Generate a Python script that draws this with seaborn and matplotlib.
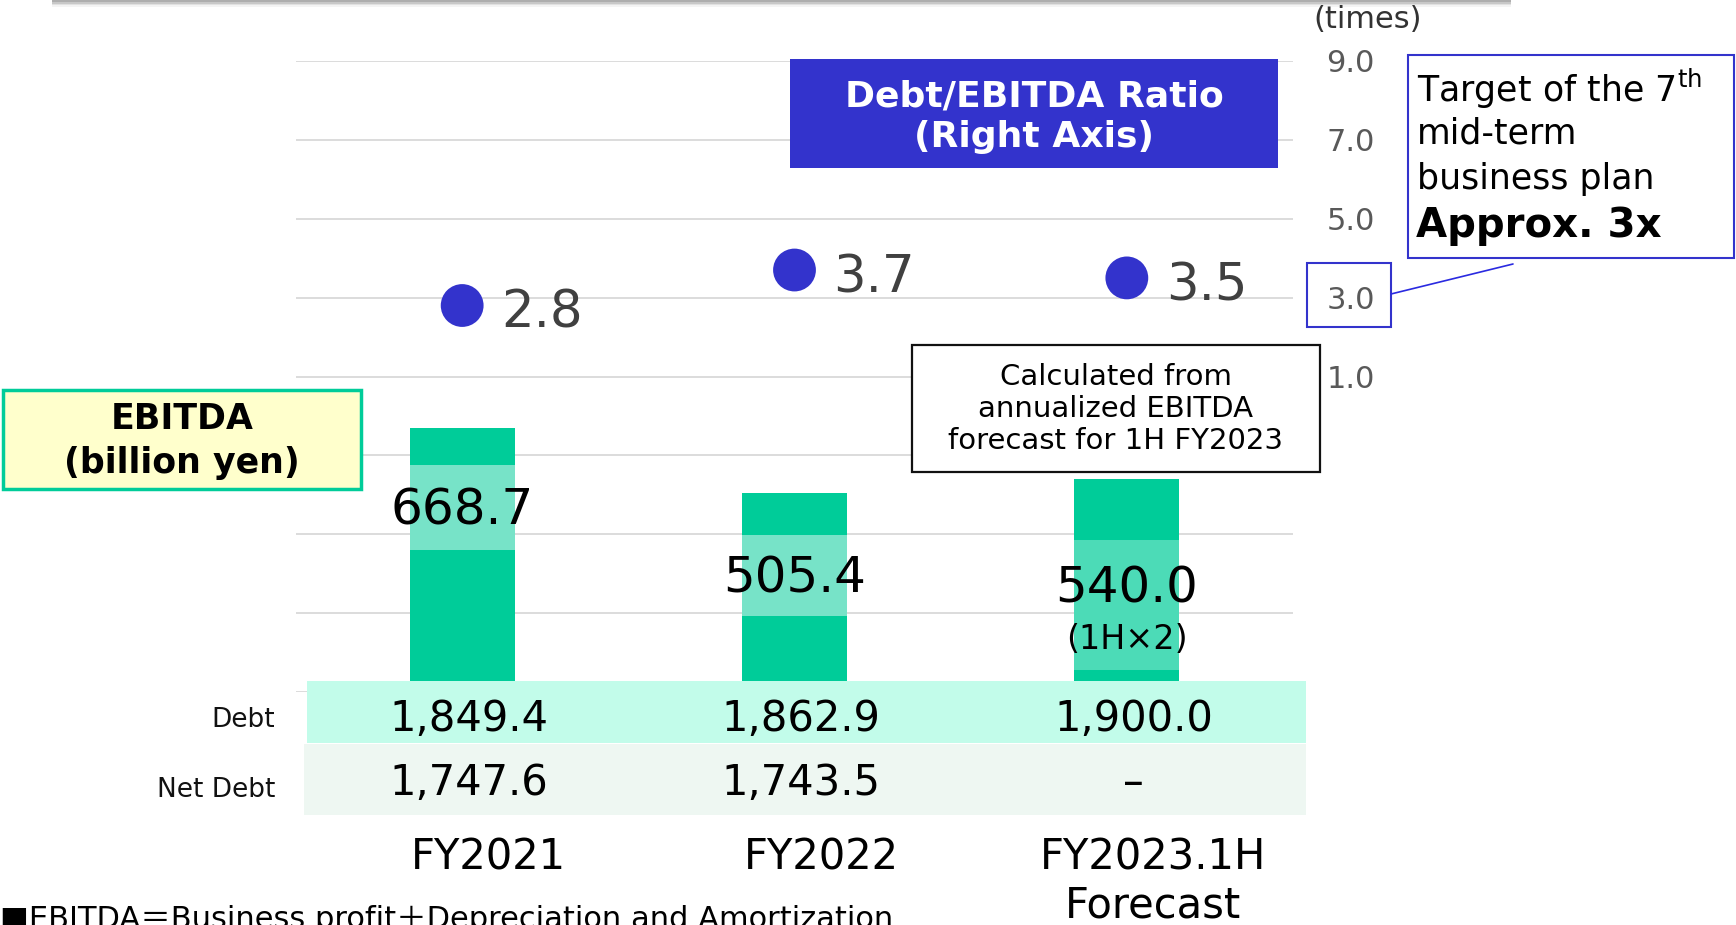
import numpy as np
import pandas as pd
import matplotlib
matplotlib.use("Agg")
import matplotlib.pyplot as plt
from matplotlib.patches import Rectangle
from matplotlib.transforms import blended_transform_factory
import seaborn as sns

# ---- data ----
periods = ["FY2021", "FY2022", "FY2023.1H\nForecast"]
ebitda = [668.7, 505.4, 540.0]
ratio = [2.8, 3.7, 3.5]
debt = ["1,849.4", "1,862.9", "1,900.0"]
net_debt = ["1,747.6", "1,743.5", "\u2013"]
ratio_ticks = [1.0, 3.0, 5.0, 7.0, 9.0]

# label placement (left-axis units), kept apart from the data
label_y = [460, 288, 263]
band_lo = [360, 192, 56]
band_hi = [575, 397, 385]
band_alpha = [0.47, 0.47, 0.30]

W, H = 1736, 925
GREEN = "#00CC99"
BLUE = "#3333CC"
INK = "#000000"

sns.set_style("white")
plt.rcParams["font.family"] = ["DejaVu Sans", "Noto Sans CJK JP"]
plt.rcParams["text.color"] = INK

fig = plt.figure(figsize=(W / 100, H / 100), dpi=100)
ax = fig.add_axes([296 / W, 1 - 692 / H, (1293 - 296) / W, (692 - 61) / H])

df = pd.DataFrame({"period": periods, "ebitda": ebitda})
sns.barplot(data=df, x="period", y="ebitda", color=GREEN, saturation=1,
            width=0.315, linewidth=0, ax=ax, zorder=2)
ax.set_ylim(0, 1600)
ax.set_xlim(-0.5, 2.5)
ax.set_yticks(np.arange(0, 1601, 200))
ax.grid(axis="y", color="#D9D9D9", lw=1.3, zorder=0)
ax.set_axisbelow(True)
ax.set_xlabel("")
ax.set_ylabel("")
sns.despine(ax=ax, left=True, bottom=True)

# lighter band behind the bar labels
xs = np.arange(len(periods))
for i in xs:
    ax.bar(i, band_hi[i] - band_lo[i], bottom=band_lo[i], width=0.315,
           color=(1, 1, 1, band_alpha[i]), linewidth=0, zorder=3)

for i in xs:
    ax.text(i, label_y[i], f"{ebitda[i]:.1f}", ha="center", va="center",
            fontsize=36, color=INK, zorder=4)
ax.text(2, 132, "(1H\u00d72)", ha="center", va="center", fontsize=24, color=INK, zorder=4)

# right axis: Debt/EBITDA ratio
ax2 = ax.twinx()
ax2.set_ylim(-7, 9)
ax2.set_yticks(ratio_ticks)
ax2.set_yticklabels([f"{t:.1f}" for t in ratio_ticks], color="#595959", fontsize=22)
ax2.tick_params(axis="y", length=0, pad=24)
for s in ax2.spines.values():
    s.set_visible(False)
# twinx turns the left ticks back on, so switch them off here
ax.tick_params(left=False, labelleft=False, bottom=False, labelbottom=False, length=0)
sns.scatterplot(x=xs, y=ratio, s=950, color=BLUE, edgecolor="none", ax=ax2, zorder=5)
for i, r in enumerate(ratio):
    ax2.annotate(f"{r:.1f}", (i, r), xytext=(28, -6), textcoords="offset points",
                 ha="left", va="center", fontsize=37, color="#404040")

# ---- figure-level decorations ----
def box(x0, y0, x1, y1, **kw):
    fig.add_artist(Rectangle((x0 / W, 1 - y1 / H), (x1 - x0) / W, (y1 - y0) / H,
                             transform=fig.transFigure, **kw))

def ftext(x, y, s, **kw):
    kw.setdefault("color", INK)
    fig.text(x / W, 1 - y / H, s, **kw)

# shadowed header strip at the very top
for k, a in enumerate([0.55, 0.35, 0.2, 0.1]):
    box(52, 0, 1511, 2 + k * 1.5, facecolor="#9a9a9a", edgecolor="none", alpha=a, zorder=1)

# table rows below the bars
box(307, 681, 1306, 743, facecolor="#C2FCEA", edgecolor="none", zorder=1)
box(304, 744, 1306, 815, facecolor="#EEF7F2", edgecolor="none", zorder=1)
tr = blended_transform_factory(ax.transData, fig.transFigure)
for i in xs:
    fig.text(i + 0.02, 1 - 719 / H, debt[i], transform=tr, ha="center", va="center",
             fontsize=30, color=INK)
    fig.text(i + 0.02, 1 - 783 / H, net_debt[i], transform=tr, ha="center", va="center",
             fontsize=30, color=INK)
    fig.text(i + 0.08, 1 - 836 / H, periods[i], transform=tr, ha="center", va="top",
             fontsize=30, color=INK, linespacing=1.2)
ftext(275, 720, "Debt", ha="right", va="center", fontsize=19, color="#111111")
ftext(275, 790, "Net Debt", ha="right", va="center", fontsize=19, color="#111111")

# EBITDA legend box
box(3, 390, 361, 489, facecolor="#FFFFCC", edgecolor=GREEN, lw=2.5, zorder=2)
ftext(182, 441, "EBITDA\n(billion yen)", ha="center", va="center", fontsize=25,
      fontweight="bold", linespacing=1.35, zorder=3)

# Debt/EBITDA ratio title box
box(790, 59, 1278, 168, facecolor=BLUE, edgecolor="none", zorder=2)
ftext(1034, 117, "Debt/EBITDA Ratio\n(Right Axis)", ha="center", va="center",
      fontsize=26, fontweight="bold", color="white", linespacing=1.25, zorder=3)

# forecast note box
box(912, 345, 1320, 472, facecolor="white", edgecolor="#111111", lw=1.6, zorder=2)
ftext(1116, 409, "Calculated from\nannualized EBITDA\nforecast for 1H FY2023",
      ha="center", va="center", fontsize=21, linespacing=1.2, zorder=3)

# target callout
ftext(1368, 20, "(times)", ha="center", va="center", fontsize=22, color="#333333")
box(1307, 263, 1391, 327, facecolor="none", edgecolor=BLUE, lw=1.5, zorder=2)
fig.add_artist(plt.Line2D([1391 / W, 1513 / W], [1 - 294 / H, 1 - 264 / H],
                          color="#2a2ae0", lw=1.2, transform=fig.transFigure, zorder=2))
box(1408, 55, 1734, 258, facecolor="white", edgecolor=BLUE, lw=1.5, zorder=2)
ftext(1417, 89, "Target of the 7$^{\\mathrm{th}}$", ha="left", va="center", fontsize=25, zorder=3)
ftext(1417, 134, "mid-term", ha="left", va="center", fontsize=25, zorder=3)
ftext(1417, 179, "business plan", ha="left", va="center", fontsize=25, zorder=3)
ftext(1416, 226, "Approx. 3x", ha="left", va="center", fontsize=29, fontweight="bold", zorder=3)

# footnote (cut off at the bottom edge, as in the slide)
ftext(0, 928, "\u25a0EBITDA\uff1dBusiness profit\uff0bDepreciation and Amortization",
      ha="left", va="baseline", fontsize=22)

fig.savefig("out.png", dpi=100)
